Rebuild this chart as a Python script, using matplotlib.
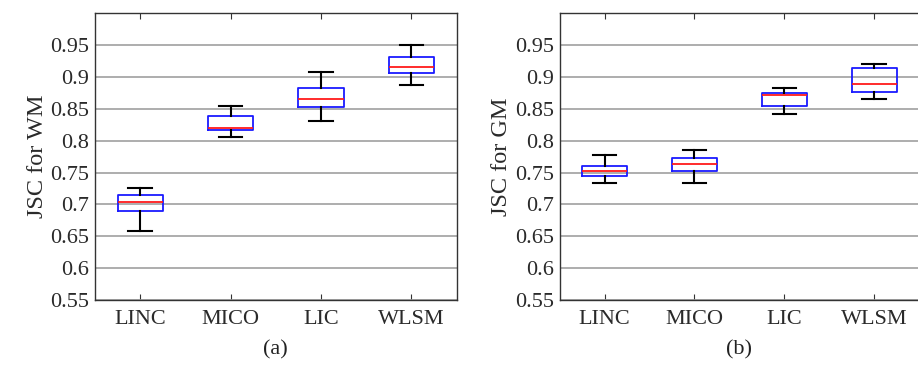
import numpy as np
import matplotlib
matplotlib.use("Agg")
import matplotlib.pyplot as plt

# Methods and five-number summaries
metodos = ["LINC", "MICO", "LIC", "WLSM"]

# (a) WM
wm_low = [0.659, 0.806, 0.831, 0.888]
wm_q1 = [0.690, 0.816, 0.853, 0.906]
wm_med = [0.703, 0.820, 0.866, 0.916]
wm_q3 = [0.715, 0.838, 0.882, 0.931]
wm_high = [0.726, 0.855, 0.907, 0.950]

# (b) GM
gm_low = [0.733, 0.734, 0.842, 0.865]
gm_q1 = [0.745, 0.753, 0.854, 0.876]
gm_med = [0.752, 0.763, 0.871, 0.889]
gm_q3 = [0.761, 0.773, 0.875, 0.914]
gm_high = [0.777, 0.785, 0.882, 0.920]

yticks = [0.55, 0.6, 0.65, 0.7, 0.75, 0.8, 0.85, 0.9, 0.95]
ytick_labels = ["0.55", "0.6", "0.65", "0.7", "0.75", "0.8", "0.85", "0.9", "0.95"]

plt.rcParams['font.family'] = ['Liberation Serif', 'DejaVu Serif']

fig = plt.figure(figsize=(9.18, 3.65), dpi=100)
ax1 = fig.add_axes([0.1035, 0.178, 0.394, 0.786])
ax2 = fig.add_axes([0.6097, 0.178, 0.3915, 0.786])


def dibujar(ax, low, q1, med, q3, high, ylabel, caption):
    stats = []
    for i in range(len(metodos)):
        stats.append(dict(whislo=low[i], q1=q1[i], med=med[i], q3=q3[i],
                          whishi=high[i], fliers=[], label=metodos[i]))
    ax.bxp(stats, positions=np.arange(1, len(metodos) + 1), widths=0.5,
           showfliers=False,
           boxprops=dict(color='#1a1aff', linewidth=1.3),
           medianprops=dict(color='#ff1a1a', linewidth=1.3),
           whiskerprops=dict(color='black', linewidth=1.5),
           capprops=dict(color='black', linewidth=1.5),
           capwidths=0.26, zorder=3)
    ax.set_xlim(0.5, 4.5)
    ax.set_ylim(0.55, 1.0)
    ax.set_yticks(yticks)
    ax.set_yticklabels(ytick_labels)
    ax.set_xticks(np.arange(1, len(metodos) + 1))
    ax.set_xticklabels(metodos)
    ax.yaxis.grid(True, color='#a0a0a0', linewidth=1.2, zorder=0)
    ax.set_axisbelow(True)
    ax.tick_params(axis='both', labelsize=16, direction='in', length=4,
                   color='#333333', colors='#2a2a2a')
    ax.tick_params(axis='x', top=True, pad=7)
    ax.tick_params(axis='y', length=0, pad=4)
    for s in ax.spines.values():
        s.set_color('#333333')
        s.set_linewidth(1.0)
    ax.set_ylabel(ylabel, fontsize=17.5, color='#2a2a2a', labelpad=2)
    ax.text(0.5, -0.174, caption, transform=ax.transAxes, ha='center',
            va='center', fontsize=16, color='#222222')


dibujar(ax1, wm_low, wm_q1, wm_med, wm_q3, wm_high, "JSC for WM", "(a)")
dibujar(ax2, gm_low, gm_q1, gm_med, gm_q3, gm_high, "JSC for GM", "(b)")

fig.savefig("out.png", dpi=100)
